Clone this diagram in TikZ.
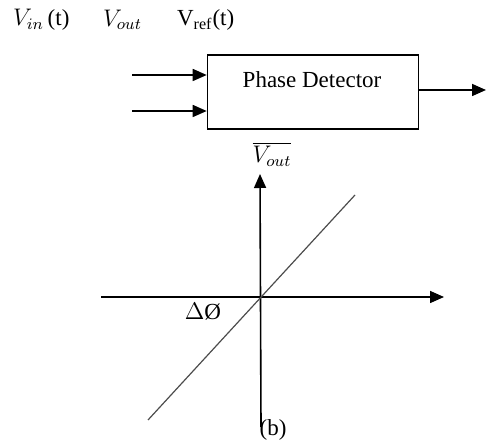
\documentclass[tikz,border=0pt]{standalone}
\usepackage{amsmath,amssymb}
\usepackage{fontspec}
\setmainfont{Liberation Serif}
\usepackage{tikz}
\usetikzlibrary{arrows.meta,positioning}

\begin{document}
\begin{tikzpicture}[
  x=0.5pt, y=-0.5pt,
  font=\fontsize{11.5}{13}\selectfont,
  box/.style={draw, thick, minimum width=105.5pt, minimum height=37pt, inner sep=0pt},
  arrow/.style={-{Triangle[length=7pt, width=6pt]}, thick},
  axis/.style={-{Triangle[length=7pt, width=6pt]}, thick},
  curve/.style={draw=black!70, semithick}
]
\useasboundingbox (0,0) rectangle (486,442);
% block (a)
\node[anchor=west] (vin) at (6,20) {$V_{in}$\,(t)};
\node[anchor=west] (vout) at (96,20) {$V_{out}$};
\node[anchor=west] (vref) at (170,20) {V$_{\text{ref}}$(t)};
\node[box] (pd) at (313,92) {};
\node (pdtext) at (312,80) {Phase Detector};
\coordinate (in1) at (132,75);
\coordinate (in2) at (132,111);
\coordinate (out) at (486,90);
\draw[arrow] (in1) -- (in1 -| pd.west);
\draw[arrow] (in2) -- (in2 -| pd.west);
\draw[arrow] (pd.east |- out) -- (out);
% characteristic (b)
\coordinate (o) at (260,297);
\coordinate (ytop) at (260,174);
\coordinate (ybot) at (261,427);
\coordinate (xl) at (101,297);
\coordinate (xr) at (444,297);
\coordinate (c1) at (148,420);
\coordinate (c2) at (355,195);
\draw[axis] (ybot) -- (ytop);
\draw[axis] (xl) -- (xr);
\draw[curve] (c1) -- (c2);
\node (vbar) at (272,154) {$\overline{V_{out}}$};
\node (dphi) at (203,312) {$\Delta\text{Ø}$};
\node (blab) at (273,430) {(b)};
\end{tikzpicture}
\end{document}
